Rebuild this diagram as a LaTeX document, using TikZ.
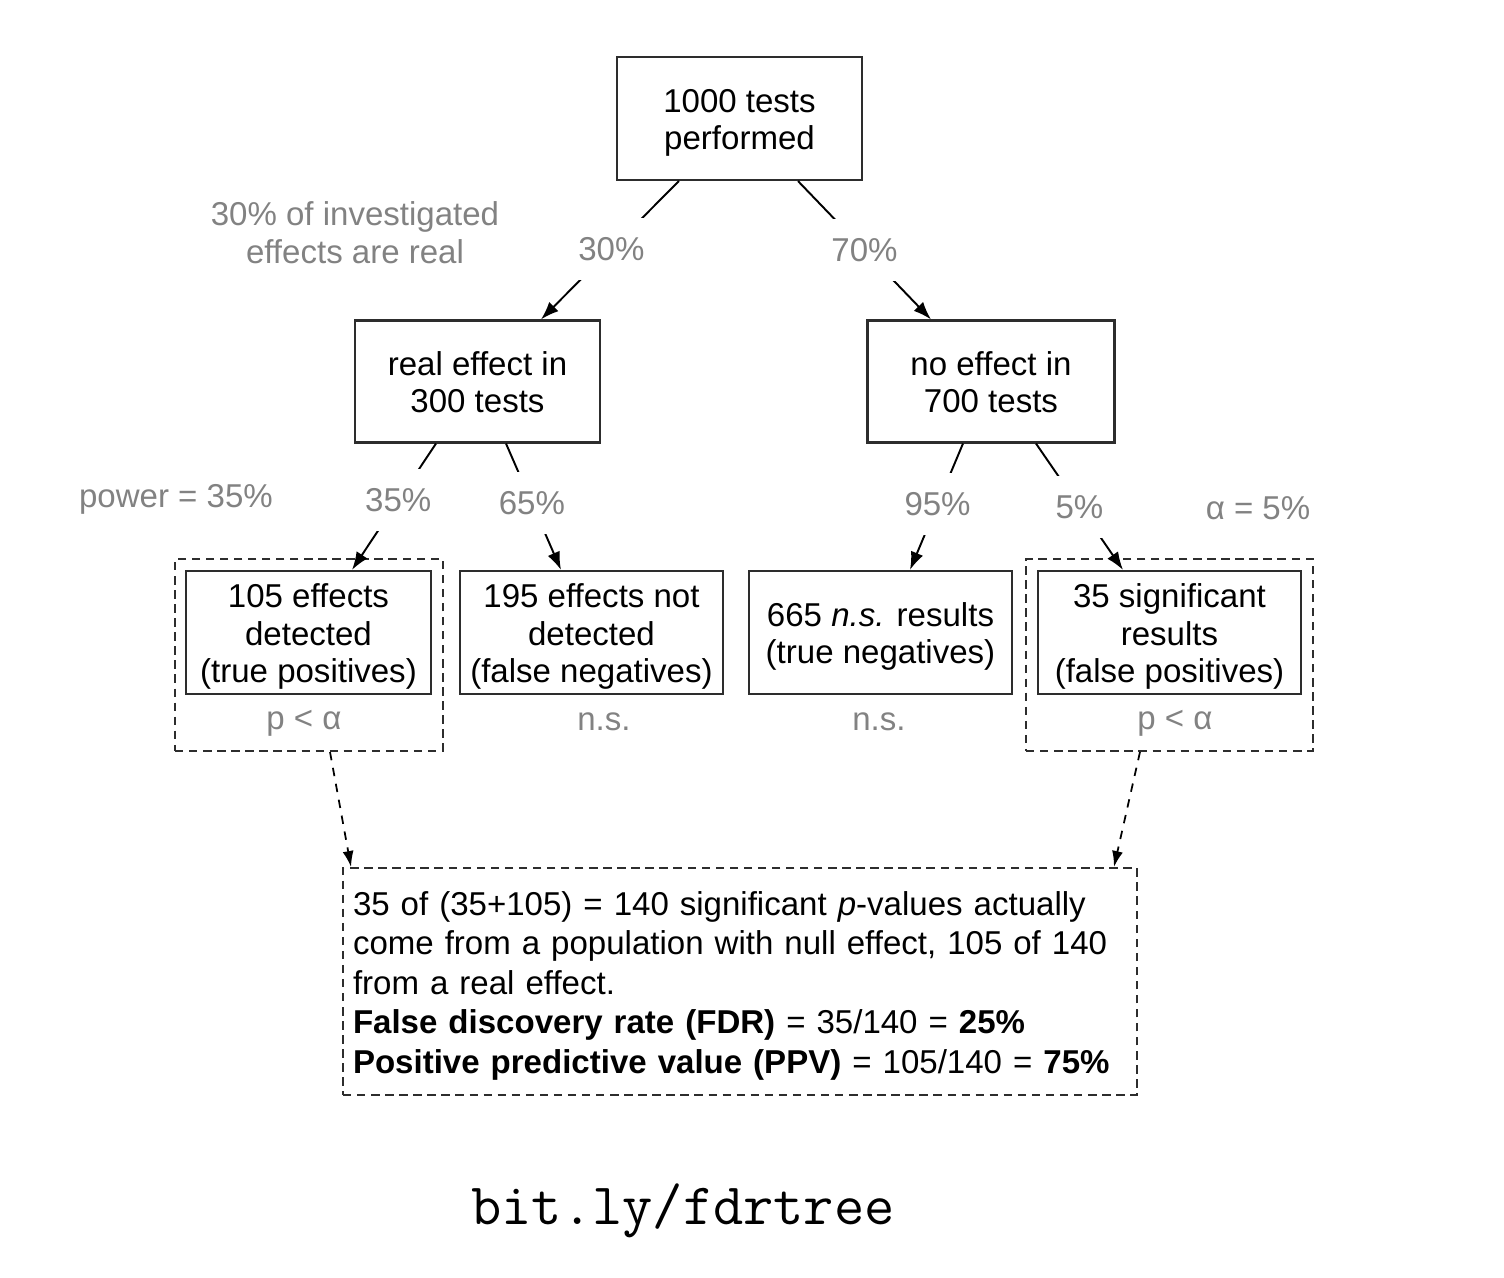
\documentclass[tikz,border=0pt]{standalone}
\usepackage{fontspec}
\setmainfont{Liberation Sans}
\usepackage{tikz}
\usetikzlibrary{arrows.meta,positioning,calc}
\definecolor{fdedge}{RGB}{45,45,45}
\definecolor{fdgray}{RGB}{130,130,130}
% lines of a box, set a little low as in the reference
\newcommand{\fdlines}[2][c]{\raisebox{-1.4pt}[\height][\depth]{\begin{tabular}{@{}#1@{}}#2\end{tabular}}}
\tikzset{
  fdbox/.style={
    draw=fdedge, line width=0.6pt, align=center, inner sep=0pt,
    minimum height=12.2mm, font=\fontsize{9.4}{10.8}\selectfont
  },
  grp/.style={
    draw=fdedge, dash pattern=on 2.4pt off 1.6pt, line width=0.55pt, inner sep=0pt
  },
  arr/.style={-{Latex[length=1.8mm,width=1.3mm]}, draw=black, line width=0.55pt},
  darr/.style={-{Latex[length=1.6mm,width=1.1mm]}, draw=black, line width=0.5pt,
    dash pattern=on 2.4pt off 2.2pt},
  pct/.style={
    fill=white, text=fdgray, inner sep=0pt, minimum height=6.2mm,
    minimum width=7mm, font=\fontsize{9.4}{10.8}\selectfont
  },
  anno/.style={text=fdgray, align=center, font=\fontsize{9.4}{10.8}\selectfont}
}
\begin{document}
\begin{tikzpicture}[x=0.1mm, y=-0.1mm]
  \useasboundingbox (0,0) rectangle (1504,1278);
  % tree
  \node[fdbox, minimum width=24.5mm, minimum height=12.3mm] (tests) at (739.5,118.5) {\fdlines{1000 tests\\performed}};
  \node[fdbox, minimum width=24.5mm] (real) at (477.5,381.5) {\fdlines{real effect in\\300 tests}};
  \node[fdbox, minimum width=24.7mm] (null) at (991,381.5) {\fdlines{no effect in\\700 tests}};
  \node[fdbox, minimum width=24.5mm, minimum height=12.3mm] (tp) at (308.5,632.5) {\fdlines{105 effects\\detected\\(true positives)}};
  \node[fdbox, minimum width=26.3mm, minimum height=12.3mm] (fn) at (591.5,632.5) {\fdlines{195 effects not\\detected\\(false negatives)}};
  \node[fdbox, minimum width=26.3mm, minimum height=12.3mm] (tn) at (880.5,632.5) {\fdlines{665 \textit{n.s.} results\\(true negatives)}};
  \node[fdbox, minimum width=26.3mm, minimum height=12.3mm] (fp) at (1169.5,632.5) {\fdlines{35 significant\\results\\(false positives)}};
  % significant groups
  \node[grp, minimum width=26.8mm, minimum height=19.2mm] (sigl) at (309,655) {};
  \node[grp, minimum width=28.7mm, minimum height=19.2mm] (sigr) at (1169.5,655) {};
  \node[anno] (sigtp) at (304,723) {p < α};
  \node[anno] (nsfn) at (604,722) {n.s.};
  \node[anno] (nstn) at (879,722) {n.s.};
  \node[anno] (sigfp) at (1175,723) {p < α};
  % side notes
  \node[anno] (realnote) at (355,233) {30\% of investigated\\effects are real};
  \node[anno] (power) at (176,499) {power = 35\%};
  \node[anno] (alpha) at (1258,508) {α = 5\%};
  % branches
  \draw[arr] ($(tests.south)+(-60.5,0)$) -- node[pct, pos=0.49] {30\%} ($(real.north)+(63.5,0)$);
  \draw[arr] ($(tests.south)+(58.5,0)$) -- node[pct, pos=0.5] {70\%} ($(null.north)+(-60,0)$);
  \draw[arr] ($(real.south)+(-41.5,0)$) -- node[pct, pos=0.45] {35\%} ($(tp.north)+(43.5,0)$);
  \draw[arr] ($(real.south)+(28.5,0)$) -- node[pct, pos=0.47] {65\%} ($(fn.north)+(-30.5,0)$);
  \draw[arr] ($(null.south)+(-28,0)$) -- node[pct, pos=0.48] {95\%} ($(tn.north)+(29.5,0)$);
  \draw[arr] ($(null.south)+(45,0)$) -- node[pct, pos=0.5] {5\%} ($(fp.north)+(-46.5,0)$);
  % summary
  \node[grp, text width=77.4mm, minimum height=22.7mm, inner xsep=1mm, align=left,
        font=\fontsize{9.4}{11.2}\selectfont] (fdr) at (740,981.5)
    {\fdlines[l]{35 of (35+105) = 140 significant \textit{p}-values actually\\
     come from a population with null effect, 105 of 140\\
     from a real effect.\\
     \textbf{False discovery rate (FDR)} = 35/140 = \textbf{25\%}\\
     \textbf{Positive predictive value (PPV)} = 105/140 = \textbf{75\%}}};
  \draw[darr] ($(sigl.south)+(21,0)$) -- ($(fdr.north west)+(9,0)$);
  \draw[darr] ($(sigr.south)+(-29.5,0)$) -- ($(fdr.north east)+(-24,0)$);
  \node[font=\ttfamily\fontsize{16.7}{18}\selectfont] (url) at (683,1211) {bit.ly/fdrtree};
\end{tikzpicture}
\end{document}
